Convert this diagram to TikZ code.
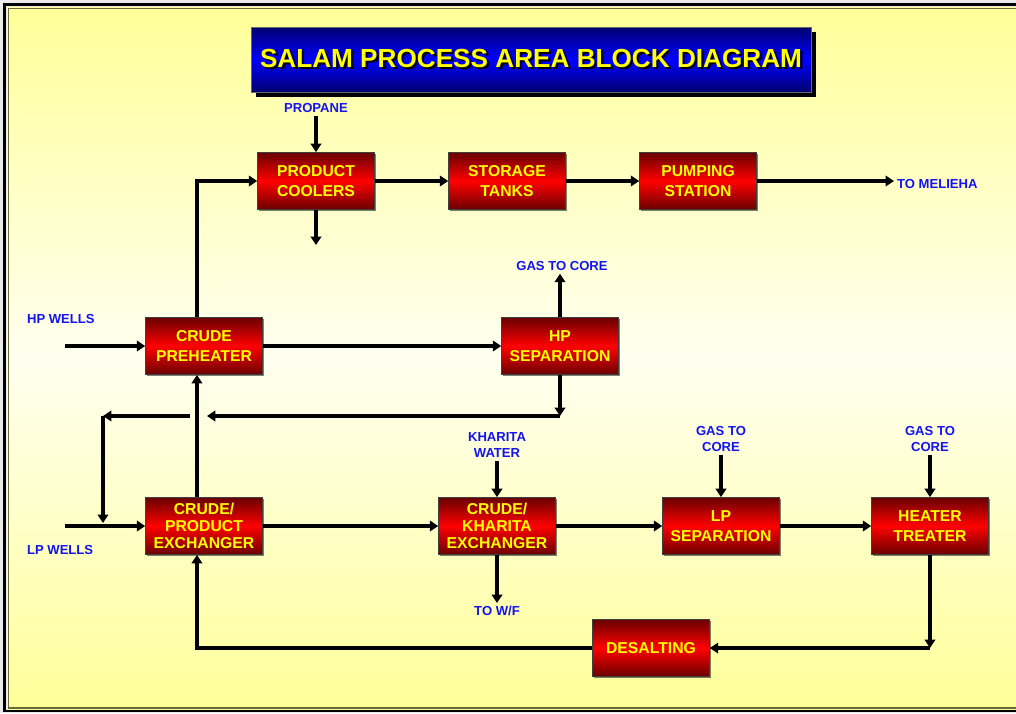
\documentclass[tikz,border=0pt]{standalone}
\usepackage{fontspec}
\setmainfont{Liberation Sans}
\usetikzlibrary{arrows.meta,shadows}

\definecolor{bgyellow}{HTML}{FFFF99}
\definecolor{bglight}{HTML}{FFFFF0}
\definecolor{framegreen}{HTML}{6B6B3A}
\definecolor{boxdark}{HTML}{6A0000}
\definecolor{boxred}{HTML}{FF0000}
\definecolor{titledark}{HTML}{000070}
\definecolor{titleblue}{HTML}{0000FF}
\definecolor{lblblue}{HTML}{1414F0}
\definecolor{textyellow}{HTML}{FFFF00}

\newcommand{\shtext}[1]{\makebox[0pt][l]{\hspace{1.5pt}\raisebox{-1.5pt}{\color{black}#1}}#1}

\tikzset{
  unit/.style={rectangle, draw=black!75, line width=0.6pt, minimum width=83pt, minimum height=40.5pt,
    inner sep=0pt, align=center, text=textyellow, font=\fontsize{11.2}{13.8}\selectfont\bfseries,
    top color=boxdark, bottom color=boxdark, middle color=boxred,
    drop shadow={shadow xshift=1.3pt, shadow yshift=-1.3pt, opacity=0.5, fill=black}},
  tall/.style={font=\fontsize{11.2}{12.2}\selectfont\bfseries},
  lbl/.style={text=lblblue, font=\fontsize{9.3}{11.3}\selectfont\bfseries, align=center, inner sep=2pt},
  flow/.style={line width=2.7pt, -{Triangle[length=6pt,width=7.5pt]}},
}

\begin{document}
\begin{tikzpicture}[x=0.025cm, y=-0.025cm]
	\clip (0,0) rectangle (1016,713);
	\fill[white!92!black] (0,0) rectangle (1016,713);
	\shade[top color=bgyellow, bottom color=bgyellow, middle color=bglight] (7,7) rectangle (1030,709);
	\draw[line width=2pt, black] (4.5,4.5) rectangle (1030,711);
	\draw[line width=1.2pt, framegreen] (8.5,8.5) rectangle (1030,708);
	
	% title
	\node (title) [rectangle, draw=black!60, minimum width=398pt, minimum height=46pt,
	  top color=titledark, bottom color=titledark, middle color=titleblue,
	  drop shadow={shadow xshift=3.5pt, shadow yshift=-3.5pt, opacity=1, fill=black},
	  text=textyellow, font=\fontsize{18.6}{22}\selectfont\bfseries] at (531,59.5)
	  {\shtext{SALAM PROCESS AREA BLOCK DIAGRAM}};
	
	% units
	\node (coolers) [unit] at (316,181) {PRODUCT\\COOLERS};
	\node (tanks) [unit] at (507,181) {STORAGE\\TANKS};
	\node (pumping) [unit] at (698,181) {PUMPING\\STATION};
	\node (preheater) [unit] at (204,346) {CRUDE\\PREHEATER};
	\node (hpsep) [unit] at (560,346) {HP\\SEPARATION};
	\node (cpx) [unit, tall] at (204,526) {CRUDE/\\PRODUCT\\EXCHANGER};
	\node (ckx) [unit, tall] at (497,526) {CRUDE/\\KHARITA\\EXCHANGER};
	\node (lpsep) [unit] at (721,526) {LP\\SEPARATION};
	\node (treater) [unit] at (930,526) {HEATER\\TREATER};
	\node (desalt) [unit] at (651,648) {DESALTING};
	
	% stream labels
	\node (propane) [lbl] at (316,108) {PROPANE};
	\node (melieha) [lbl, anchor=west] at (894,184) {TO MELIEHA};
	\node (hpwells) [lbl, anchor=west] at (24,319) {HP WELLS};
	\node (lpwells) [lbl, anchor=west] at (24,550) {LP WELLS};
	\node (gas1) [lbl] at (562,266) {GAS TO CORE};
	\node (kwater) [lbl] at (497,445) {KHARITA\\WATER};
	\node (tow) [lbl] at (497,611) {TO W/F};
	\node (gas2) [lbl] at (721,439) {GAS TO\\CORE};
	\node (gas3) [lbl] at (930,439) {GAS TO\\CORE};
	
	\coordinate (hpin) at (65,346);
	\coordinate (lpin) at (65,526);
	\coordinate (coolout) at (316,245);
	\coordinate (hpret) at (560,416);
	\coordinate (retend) at (207,416);
	\coordinate (retgap) at (190,416);
	\coordinate (loopc) at (103,416);
	\coordinate (loopd) at (103,523);
	
	% product side
	\draw[flow] (propane) -- (coolers);
	\draw[flow] (coolers) -- (coolout);
	\draw[flow] (coolers) -- (tanks);
	\draw[flow] (tanks) -- (pumping);
	\draw[flow] (pumping) -- (pumping -| melieha.west);
	
	% hp side
	\draw[flow] (hpin) -- (preheater);
	\draw[flow] (preheater) -- (hpsep);
	\draw[flow] ([xshift=-5pt]preheater.north) |- (coolers);
	\draw[flow] (hpsep) -- (hpsep |- gas1.south);
	\draw[flow] (hpsep) -- (hpret);
	\draw[flow] (hpret) -- (retend);
	\draw[flow] (retgap) -- (loopc);
	\draw[flow] (loopc) -- (loopd);
	
	% lp side
	\draw[flow] (lpin) -- (cpx);
	\draw[flow] ([xshift=-5pt]cpx.north) -- ([xshift=-5pt]preheater.south);
	\draw[flow] (cpx) -- (ckx);
	\draw[flow] (ckx) -- (lpsep);
	\draw[flow] (lpsep) -- (treater);
	\draw[flow] (kwater) -- (ckx);
	\draw[flow] (ckx) -- (tow);
	\draw[flow] (gas2) -- (lpsep);
	\draw[flow] (gas3) -- (treater);
	\draw[flow] (treater.south) -- (treater.south |- desalt);
	\draw[flow] (treater.south |- desalt) -- (desalt);
	\draw[flow] (desalt) -| ([xshift=-5pt]cpx.south);
\end{tikzpicture}
\end{document}
